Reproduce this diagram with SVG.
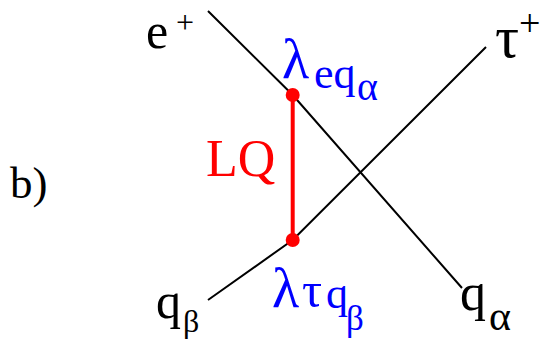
<svg xmlns="http://www.w3.org/2000/svg" width="544" height="339" viewBox="0 0 544 339">
<style>
text{font-family:"Liberation Serif","DejaVu Serif",serif}
.k{fill:#000}
.b{fill:#0000ff}
.r{fill:#ff0000}
.ln{fill:none;stroke:#000;stroke-width:2}
.lq{stroke:#ff0000;stroke-width:4}
.dot{fill:#ff0000}
</style>
<rect width="544" height="339" fill="#fff"/>
<g id="connectors">
<polyline class="ln" points="208,11 292.7,95 462,288"/>
<polyline class="ln" points="208,300 292.7,240 486,47"/>
</g>
<g id="LQ">
<line class="lq" x1="292.7" y1="95" x2="292.7" y2="240"/>
<circle class="dot" cx="292.7" cy="95" r="7"/>
<circle class="dot" cx="292.7" cy="240" r="7"/>
<text class="r" x="206" y="176" font-size="52">LQ</text>
</g>
<g id="label-b"><text class="k" x="10" y="198" font-size="45">b)</text></g>
<g id="e-plus"><text class="k" x="146" y="48" font-size="50">e</text><text class="k" x="176" y="33" font-size="32">+</text></g>
<g id="tau-plus"><text class="k" x="495" y="57" font-size="60">τ</text><text class="k" x="519" y="36" font-size="38">+</text></g>
<g id="q-alpha"><text class="k" x="460" y="310" font-size="52">q</text><text class="k" x="489" y="330" font-size="42">α</text></g>
<g id="q-beta"><text class="k" x="156" y="318" font-size="50">q</text><text class="k" x="183" y="332" font-size="32">β</text></g>
<g id="coupling-eq"><text class="b" x="282" y="78" font-size="56">λ</text><text class="b" x="314" y="88" font-size="44">eq</text><text class="b" x="357" y="100" font-size="40">α</text></g>
<g id="coupling-tq"><text class="b" x="272" y="307" font-size="56">λ</text><text class="b" x="302" y="307" font-size="50">τ</text><text class="b" x="326" y="308" font-size="44">q</text><text class="b" x="346" y="330" font-size="35">β</text></g>
</svg>
